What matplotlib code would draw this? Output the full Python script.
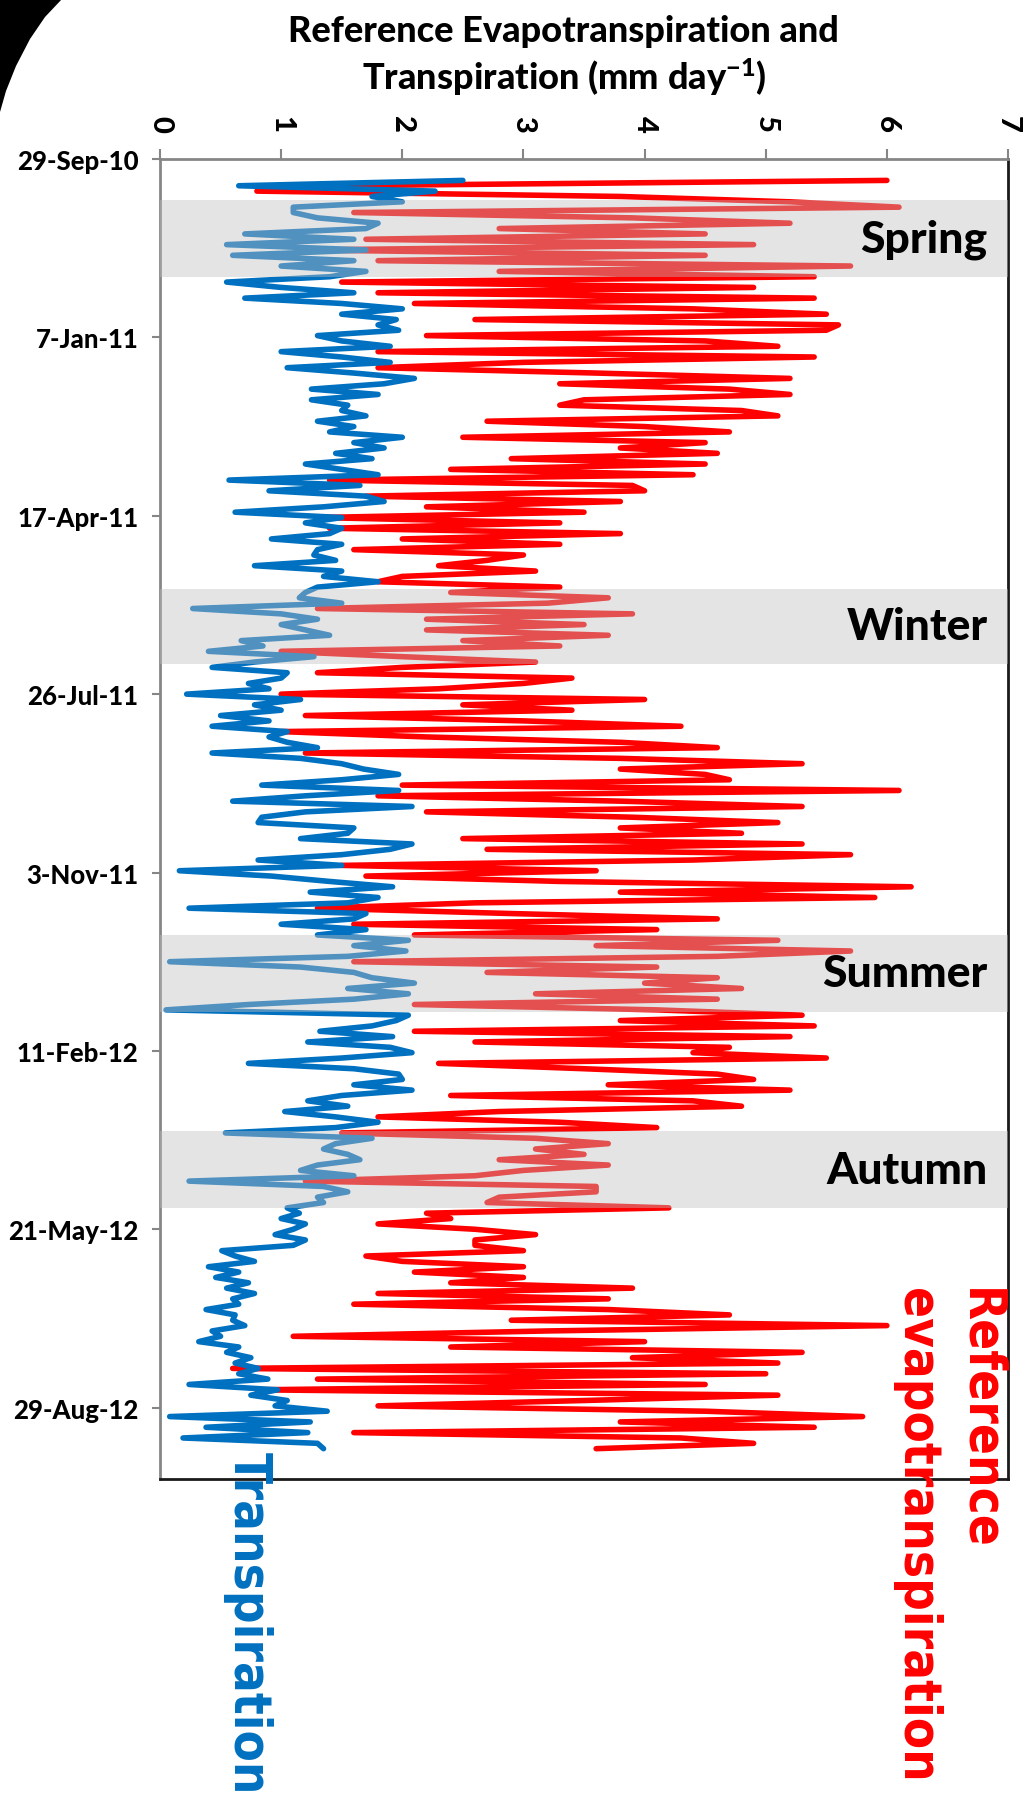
import numpy as np
import pandas as pd
import matplotlib
matplotlib.use('Agg')
import matplotlib.pyplot as plt
import matplotlib.dates as mdates
from matplotlib import font_manager as fm
from matplotlib.patches import Polygon

plt.rcParams['font.family'] = ['Lato', 'DejaVu Sans']
plt.rcParams['font.weight'] = 'black'
plt.rcParams['mathtext.fontset'] = 'custom'
plt.rcParams['mathtext.rm'] = 'Lato:black'
plt.rcParams['mathtext.it'] = 'Lato:black'
plt.rcParams['mathtext.bf'] = 'Lato:black'
plt.rcParams['mathtext.default'] = 'rm'

# ET and transpiration (mm/day), one reading every 3 days from 11-Oct-10
first_day = '2010-10-11'
step_days = 3

et_ref = [
    6.0, 1.4, 0.8, 3.8, 5.2, 6.1, 1.6, 3.9, 5.2, 2.8,
    4.5, 1.7, 4.9, 1.2, 4.5, 1.8, 5.7, 2.8, 5.4, 1.5,
    4.9, 1.8, 5.4, 2.1, 4.4, 5.5, 2.6, 5.6, 5.5, 2.2,
    4.5, 5.1, 1.8, 5.4, 3.0, 1.8, 3.6, 5.2,
    3.3, 4.7, 5.2, 3.5, 3.3, 4.8, 5.1, 2.7, 4.0, 4.7,
    2.5, 4.5, 3.8, 4.6, 2.9, 4.5, 2.4, 4.4, 1.4, 3.9,
    4.0, 1.7, 3.8, 2.2, 3.5, 1.3, 3.3, 1.4, 3.8, 2.0,
    3.3, 1.6, 3.0, 2.7, 2.3, 3.1, 2.0, 1.8, 3.3, 2.4,
    3.7,
    3.2, 1.3, 3.9, 2.2, 3.5, 2.2, 3.7, 2.5, 3.3, 1.0,
    2.0, 3.1, 2.0, 1.3, 3.4, 3.0, 2.3, 1.0, 4.0, 2.5,
    3.4, 1.2, 3.0, 4.3, 1.0, 2.2, 3.8, 4.6, 1.2, 3.8,
    5.3, 3.8, 4.5, 4.7, 2.0, 6.1, 1.8, 3.8, 5.3, 2.2,
    3.9,
    5.1, 3.8, 4.8, 2.5, 5.3, 2.7, 5.7, 4.4, 1.5, 3.6,
    1.7, 3.3, 6.2, 3.8, 5.9, 2.6, 1.3, 2.9, 4.6, 1.6,
    4.1, 2.1, 5.1, 3.6, 5.7, 4.6, 1.6, 4.1, 2.7, 4.6,
    4.0, 4.8, 3.1, 4.6, 2.1, 4.1, 5.3, 3.8, 5.4, 2.1,
    5.2,
    2.6, 4.7, 4.4, 5.5, 2.3, 3.5, 4.6, 4.9, 3.7, 5.2,
    2.4, 4.4, 4.8, 2.8, 1.8, 3.3, 4.1, 1.5, 3.1, 3.7,
    3.1, 3.5, 2.8, 3.7, 3.0, 2.6, 1.2, 3.6, 3.6, 2.8,
    2.7, 4.2, 2.2, 2.4, 1.8, 2.6, 3.1, 2.6, 2.6, 3.0,
    1.7,
    2.0, 3.0, 2.1, 3.0, 2.4, 3.9, 1.8, 3.7, 1.6, 3.7,
    4.7, 2.9, 6.0, 3.2, 1.1, 4.0, 2.4, 5.3, 3.9, 5.1,
    0.6, 5.0, 1.3, 4.5, 0.8, 5.1, 3.5, 1.8, 4.5, 5.8,
    3.8, 5.4, 1.6, 4.3, 4.9, 3.6,
]

transp = [
    2.5, 0.65, 2.27, 1.75, 2.0, 1.1, 1.1, 1.3, 1.8, 1.7,
    0.7, 1.6, 0.55, 1.7, 0.6, 1.6, 1.0, 1.7, 1.4, 0.55,
    1.0, 1.6, 0.7, 1.5, 2.0, 1.5, 1.95, 1.8, 1.97, 1.3,
    1.5, 1.9, 1.0, 1.5, 1.9, 1.05, 1.6, 2.1,
    1.85, 1.25, 1.8, 1.25, 1.55, 1.5, 1.7, 1.3, 1.6, 1.4,
    2.0, 1.6, 1.85, 1.45, 1.75, 1.2, 1.5, 1.8, 0.57, 1.65,
    0.9, 1.7, 1.85, 1.35, 0.62, 1.5, 1.2, 1.5, 1.4, 0.92,
    1.5, 1.3, 1.27, 1.45, 0.78, 1.5, 1.35, 1.8, 1.3, 1.2,
    1.15,
    1.5, 0.27, 1.0, 1.3, 1.0, 1.2, 1.4, 0.67, 0.85, 0.4,
    1.27, 0.78, 0.43, 1.05, 1.0, 0.73, 0.9, 0.22, 1.16, 0.78,
    1.0, 0.5, 0.9, 0.43, 1.05, 0.9, 1.05, 1.3, 0.43, 1.16,
    1.5, 1.68, 1.97, 1.5, 0.84, 1.97, 1.2, 0.6, 2.08, 1.2,
    0.84,
    0.81, 1.6, 1.55, 1.16, 2.08, 1.9, 1.5, 0.81, 1.5, 0.16,
    0.92, 1.4, 1.92, 1.24, 1.8, 1.55, 0.24, 1.7, 1.6, 1.0,
    1.7, 1.3, 2.05, 1.6, 2.03, 1.55, 0.08, 1.16, 1.6, 1.75,
    2.1, 1.55, 2.05, 1.6, 0.73, 0.05, 2.05, 1.95, 1.75, 1.32,
    1.92,
    1.22, 1.9, 2.08, 1.5, 0.73, 1.6, 1.97, 2.0, 1.6, 2.08,
    1.5, 1.22, 1.55, 1.03, 1.45, 1.8, 1.45, 0.54, 1.75, 1.45,
    1.35, 1.55, 1.65, 1.3, 1.16, 1.6, 0.24, 1.35, 1.55, 1.3,
    1.35, 1.05, 1.15, 1.0, 1.2, 1.1, 0.95, 1.2, 1.1, 0.51,
    0.62,
    0.78, 0.4, 0.65, 0.46, 0.73, 0.55, 0.78, 0.6, 0.65, 0.38,
    0.62, 0.6, 0.7, 0.43, 0.5, 0.32, 0.65, 0.55, 0.75, 0.62,
    0.81, 0.65, 0.89, 0.24, 0.97, 0.75, 1.05, 0.95, 1.38, 0.08,
    1.24, 0.38, 1.22, 0.19, 1.3, 1.35,
]

date_labels = ['29-Sep-10', '7-Jan-11', '17-Apr-11', '26-Jul-11',
               '3-Nov-11', '11-Feb-12', '21-May-12', '29-Aug-12']
et_ticks = [0, 1, 2, 3, 4, 5, 6, 7]

season_names = ['Spring', 'Winter', 'Summer', 'Autumn']
season_start = ['2010-10-22', '2011-05-28', '2011-12-08', '2012-03-27']
season_end = ['2010-12-04', '2011-07-09', '2012-01-20', '2012-05-09']

date_top = '2010-09-29'
date_bottom = '2012-10-08'

RED = '#ff0000'
BLUE = '#0070c0'
GREY = '#868686'

dates = pd.date_range(first_day, periods=len(et_ref), freq=f'{step_days}D')
tick_dates = pd.to_datetime(date_labels, format='%d-%b-%y')

W, H = 1026, 1799
fig = plt.figure(figsize=(W / 100, H / 100), dpi=100)
ax = fig.add_axes([160 / W, 1 - 1480 / H, 848 / W, 1320 / H])

ax.plot(et_ref, dates, color=RED, lw=4, solid_capstyle='round',
        solid_joinstyle='round', zorder=2)
ax.plot(transp, dates, color=BLUE, lw=4, solid_capstyle='round',
        solid_joinstyle='round', zorder=2.1)

# seasonal windows, laid semi-transparent over the curves
for name, s, e in zip(season_names, season_start, season_end):
    s0 = mdates.date2num(pd.Timestamp(s))
    e0 = mdates.date2num(pd.Timestamp(e))
    ax.axhspan(s0, e0, color='#c0c0c0', alpha=0.42, lw=0, zorder=3)
    ax.text(0.976, (s0 + e0) / 2, name, transform=ax.get_yaxis_transform(),
            ha='right', va='center', fontsize=32, color='black', zorder=4)

ax.set_xlim(0, 7)
ax.set_ylim(mdates.date2num(pd.Timestamp(date_bottom)),
            mdates.date2num(pd.Timestamp(date_top)))

ax.xaxis.tick_top()
ax.set_xticks(et_ticks)
ax.set_xticklabels([str(v) for v in et_ticks])
ax.tick_params(axis='x', direction='out', length=7.5, width=1.5, color=GREY,
               pad=12, labelsize=21, labelrotation=-90)
ax.set_yticks(mdates.date2num(tick_dates))
ax.set_yticklabels(date_labels)
ax.tick_params(axis='y', direction='out', length=6, width=1.5, color=GREY,
               pad=9.5, labelsize=18.5)

for side in ['left', 'top']:
    ax.spines[side].set_color(GREY)
    ax.spines[side].set_linewidth(2)
for side in ['right', 'bottom']:
    ax.spines[side].set_color('#1a1a1a')
    ax.spines[side].set_linewidth(2)

fig.text(563 / W, 1 - 42 / H, 'Reference Evapotranspiration and',
         ha='center', va='baseline', fontsize=26)
fig.text(564 / W, 1 - 90 / H, r'Transpiration (mm day$^{-1}$)',
         ha='center', va='baseline', fontsize=26)

# series labels, running down the page
cond = fm.FontProperties(family='DejaVu Sans', weight='bold', stretch='condensed')
cond_file = fm.findfont(cond)
if 'Condensed' in cond_file:
    lab_font = fm.FontProperties(fname=cond_file, size=36.5)
else:
    lab_font = fm.FontProperties(family='DejaVu Sans', weight='bold', size=33)

fig.text(248 / W, 1 - 1452 / H, 'Transpiration', color=BLUE, rotation=-90,
         ha='center', va='top', fontproperties=lab_font)
fig.text(948 / W, 1 - 1288 / H, 'Reference\nevapotranspiration', color=RED,
         rotation=-90, ha='center', va='top', multialignment='left',
         linespacing=1.35, fontproperties=lab_font)

# dark rim in the upper-left corner
rim = [(0, 0), (62, 0), (45, 18), (30, 40), (16, 67), (6, 92), (0, 113)]
fig.patches.append(Polygon([(x / W, 1 - y / H) for x, y in rim], closed=True,
                           facecolor='black', edgecolor='none',
                           transform=fig.transFigure, figure=fig))

fig.savefig('out.png', dpi=100)
